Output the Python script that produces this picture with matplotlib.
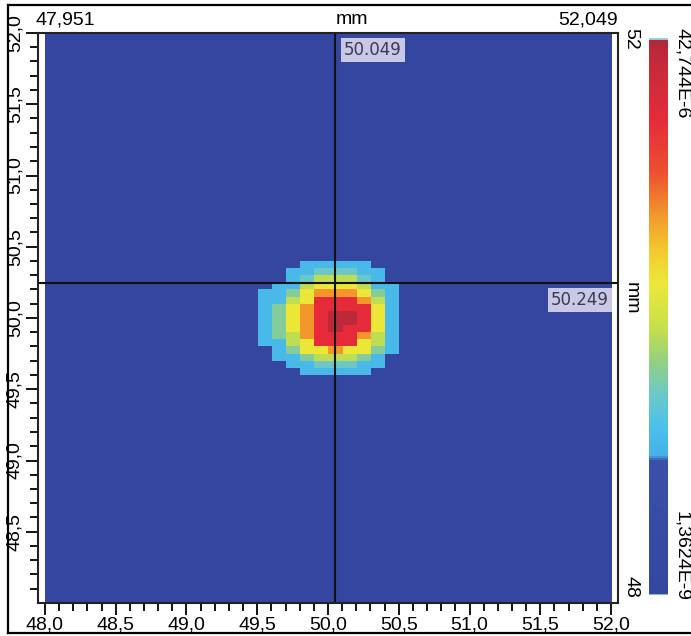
import numpy as np
import matplotlib
matplotlib.use("Agg")
import matplotlib.pyplot as plt
from matplotlib.colors import LinearSegmentedColormap
from matplotlib.lines import Line2D

plt.rcParams['font.family'] = ['Liberation Sans', 'DejaVu Sans']

# ---------------- data ----------------
x_range = [47.951, 52.049]          # mm, displayed x range
y_range = [48.0, 52.0]              # mm, displayed y range
img_x = [48.0, 52.0]                # detector extent (x)
img_y = [48.0, 52.0]                # detector extent (y)
n_cols = 40                         # detector pixels (x), 0.1 mm
n_rows = 80                         # detector pixels (y), 0.05 mm
v_min = 1.3624e-9                   # irradiance min
v_max = 42.744e-6                   # irradiance max
cross_x = 50.049                    # crosshair position
cross_y = 50.249

# spot block (values in 1e-6 units), rows from y=50.40 down to 49.60, cols x=49.5..50.5
spot_col0 = 15
spot_row0 = 32
spot_values = [
    [0,    0,    0,    12.0, 12.0, 12.0, 12.0, 12.0, 0,    0   ],
    [0,    0,    12.0, 12.0, 15.4, 15.4, 15.4, 12.0, 12.0, 0   ],
    [0,    0,    12.0, 15.4, 20.1, 20.1, 20.1, 15.4, 12.0, 0   ],
    [0,    12.0, 12.0, 20.1, 23.9, 23.9, 23.9, 20.1, 12.0, 12.0],
    [12.0, 12.0, 17.0, 23.9, 29.1, 29.1, 29.1, 23.9, 17.0, 12.0],
    [12.0, 12.0, 20.1, 23.9, 36.3, 36.3, 36.3, 29.1, 20.1, 12.0],
    [12.0, 17.0, 23.9, 29.1, 36.3, 36.3, 36.3, 36.3, 23.9, 12.0],
    [12.0, 17.0, 23.9, 29.1, 36.3, 41.5, 41.5, 36.3, 23.9, 12.0],
    [12.0, 17.0, 23.9, 29.1, 36.3, 41.5, 41.5, 36.3, 23.9, 12.0],
    [12.0, 17.0, 23.9, 29.1, 36.3, 41.5, 36.3, 36.3, 23.9, 12.0],
    [12.0, 17.0, 20.1, 29.1, 36.3, 36.3, 36.3, 29.1, 20.1, 12.0],
    [12.0, 12.0, 20.1, 23.9, 36.3, 36.3, 36.3, 23.9, 20.1, 12.0],
    [0,    12.0, 17.0, 23.9, 23.9, 29.1, 23.9, 23.9, 17.0, 12.0],
    [0,    12.0, 12.0, 17.0, 20.1, 20.1, 20.1, 17.0, 12.0, 0   ],
    [0,    0,    12.0, 12.0, 15.4, 15.4, 15.4, 12.0, 12.0, 0   ],
    [0,    0,    0,    12.0, 12.0, 12.0, 12.0, 12.0, 0,    0   ],
]

x_major = [48.0, 48.5, 49.0, 49.5, 50.0, 50.5, 51.0, 51.5, 52.0]
y_major = [48.5, 49.0, 49.5, 50.0, 50.5, 51.0, 51.5, 52.0]

# ---------------- build image ----------------
grid = np.full((n_rows, n_cols), v_min)
spot = np.array(spot_values) * 1e-6
spot = np.where(spot > 0, spot, v_min)
grid[spot_row0:spot_row0 + spot.shape[0], spot_col0:spot_col0 + spot.shape[1]] = spot

cmap = LinearSegmentedColormap.from_list("irr", [
    (0.00, "#3446a0"), (0.24, "#3a50aa"), (0.25, "#46b0e8"), (0.30, "#4cc0ec"),
    (0.36, "#6cc8c8"), (0.42, "#94d080"), (0.48, "#c6e04a"), (0.56, "#ece838"),
    (0.62, "#f4c82e"), (0.68, "#f29a2c"), (0.76, "#ec5030"), (0.85, "#e62c3a"),
    (0.95, "#c82a3a"), (1.00, "#b02838")])

W, H = 691, 636
fig = plt.figure(figsize=(W / 100, H / 100), dpi=100)
ax = fig.add_axes([38 / W, 33 / H, 580 / W, 570 / H])
ax.set_facecolor("white")
im = ax.imshow(grid, cmap=cmap, vmin=v_min, vmax=v_max, origin="upper",
               extent=[img_x[0], img_x[1], img_y[0], img_y[1]],
               interpolation="nearest", aspect="auto")
ax.set_xlim(*x_range)
ax.set_ylim(*y_range)

ax.axvline(cross_x, color="#111111", lw=1.5)
ax.axhline(cross_y, color="#111111", lw=1.5)

box = dict(boxstyle="square,pad=0.18", fc="#c9c9e6", ec="none")
ax.annotate(f"{cross_x:.3f}", xy=(cross_x, y_range[1]), xytext=(9, -8),
            textcoords="offset pixels", ha="left", va="top", fontsize=12,
            color="#3a3a55", family="DejaVu Sans", bbox=box)
ax.annotate(f"{cross_y:.3f}", xy=(x_range[1], cross_y), xytext=(-9, -8),
            textcoords="offset pixels", ha="right", va="top", fontsize=12,
            color="#3a3a55", family="DejaVu Sans", bbox=box)

fmt = lambda v: f"{v:.1f}".replace(".", ",")
ax.set_xticks(x_major)
ax.set_xticklabels([fmt(v) for v in x_major], fontsize=14)
ax.set_xticks(np.arange(48.0, 52.01, 0.1), minor=True)
ax.set_yticks(y_major)
ax.set_yticklabels([fmt(v) for v in y_major], fontsize=14, rotation=90, va="center")
ax.set_yticks(np.arange(48.1, 52.01, 0.1), minor=True)
ax.tick_params(which="major", length=8.5, width=1.3, direction="out", pad=2)
ax.tick_params(which="minor", length=6, width=1.3, direction="out")
ax.tick_params(axis="x", pad=1.5)
for s in ax.spines.values():
    s.set_linewidth(1.5)
    s.set_color("#222222")

# colorbar
cax = fig.add_axes([649 / W, 41 / H, 19 / W, 557 / H])
cb = fig.colorbar(im, cax=cax)
cb.set_ticks([])
cb.outline.set_visible(False)
cax.axhline(v_max, color="#8fd8e8", lw=2)
cax.axhline(v_min, color="#7fb8e8", lw=1.5)

# texts
def ftext(x, y, s, **kw):
    fig.text(x / W, 1 - y / H, s, fontsize=14, **kw)

ftext(35, 20, "47,951", ha="left", va="center")
ftext(352, 20, "mm", ha="center", va="center")
ftext(618, 20, "52,049", ha="right", va="center")
ftext(631, 28, "52", ha="center", va="top", rotation=-90)
ftext(631, 298, "mm", ha="center", va="center", rotation=-90)
ftext(631, 598, "48", ha="center", va="bottom", rotation=-90)
ftext(682, 28, "42,744E-6", ha="center", va="top", rotation=-90)
ftext(682, 601, "1,3624E-9", ha="center", va="bottom", rotation=-90)

# outer frame
for xs, ys in [([8, W], [5, 5]), ([8, 8], [5, 633]), ([8, W], [633, 633])]:
    fig.add_artist(Line2D([x / W for x in xs], [1 - y / H for y in ys],
                          transform=fig.transFigure, color="black", lw=1.6))

fig.savefig("out.png", dpi=100)
